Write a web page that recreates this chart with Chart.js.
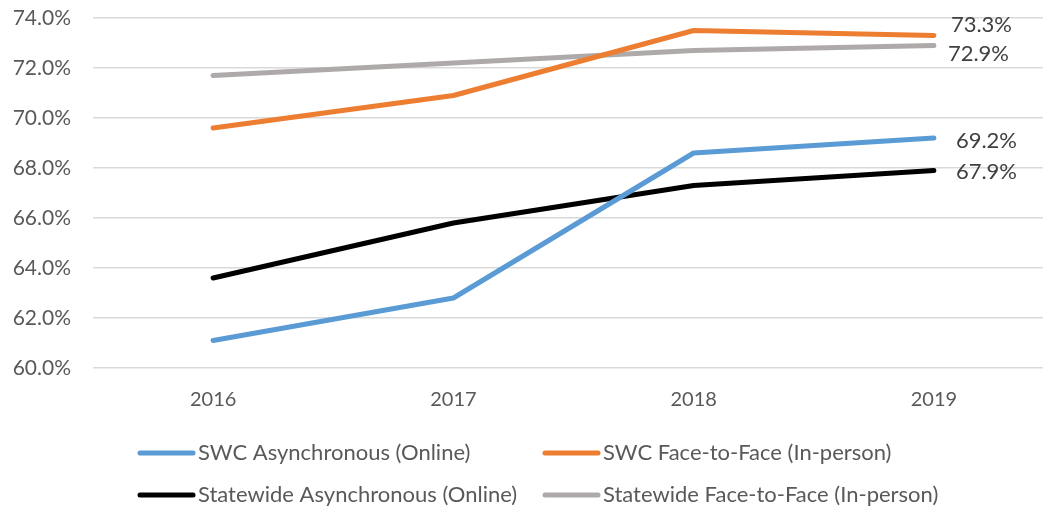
<!DOCTYPE html>
<html>
<head>
<meta charset="utf-8">
<script src="https://cdn.jsdelivr.net/npm/chart.js@4"></script>
<style>
  html, body { margin: 0; padding: 0; background: #fff; overflow: hidden; }
  #wrap { width: 1062px; height: 512px; position: relative; }
</style>
</head>
<body>
<div id="wrap"><canvas id="chart"></canvas></div>
<script>
// ============================
// Données
// ============================

const years = ["2016", "2017", "2018", "2019"];

const swcOnline      = [61.1, 62.8, 68.6, 69.2];
const swcInPerson    = [69.6, 70.9, 73.5, 73.3];
const stateOnline    = [63.6, 65.8, 67.3, 67.9];
const stateInPerson  = [71.7, 72.2, 72.7, 72.9];

const seriesNames = [
  "SWC Asynchronous (Online)",
  "SWC Face-to-Face (In-person)",
  "Statewide Asynchronous (Online)",
  "Statewide Face-to-Face (In-person)"
];

const FONT = "Lato, 'Open Sans', sans-serif";

// ============================
// Étiquette de la dernière valeur
// ============================

const lastLabels = {
  id: 'lastLabels',
  afterDatasetsDraw(chart, args, opts) {
    const ctx = chart.ctx;
    ctx.save();
    ctx.font = `22px ${FONT}`;
    ctx.fillStyle = '#404040';
    ctx.textBaseline = 'middle';
    ctx.textAlign = 'left';
    chart.data.datasets.forEach((ds, i) => {
      const meta = chart.getDatasetMeta(i);
      const pt = meta.data[meta.data.length - 1];
      const v = ds.data[ds.data.length - 1];
      const off = opts.offsets[i];
      ctx.fillText(v.toFixed(1) + '%', pt.x + off[0], pt.y + off[1]);
    });
    ctx.restore();
  }
};

// ============================
// Légende en grille 2 x 2
// ============================

const gridLegend = {
  id: 'gridLegend',
  afterDraw(chart, args, opts) {
    const ctx = chart.ctx;
    ctx.save();
    ctx.font = `22px ${FONT}`;
    ctx.fillStyle = '#595959';
    ctx.textBaseline = 'middle';
    chart.data.datasets.forEach((ds, i) => {
      const x = opts.cols[i % 2];
      const y = opts.rows[Math.floor(i / 2)];
      ctx.strokeStyle = ds.borderColor;
      ctx.lineWidth = 5;
      ctx.lineCap = 'round';
      ctx.beginPath();
      ctx.moveTo(x, y);
      ctx.lineTo(x + 53, y);
      ctx.stroke();
      ctx.fillText(ds.label, x + 58, y);
    });
    ctx.restore();
  }
};

function serie(label, data, color) {
  return {
    label: label,
    data: data,
    borderColor: color,
    backgroundColor: color,
    borderWidth: 5,
    borderCapStyle: 'round',
    borderJoinStyle: 'round',
    pointRadius: 0,
    pointHoverRadius: 0,
    tension: 0,
    fill: false
  };
}

new Chart(document.getElementById('chart'), {
  type: 'line',
  data: {
    labels: years,
    datasets: [
      serie(seriesNames[0], swcOnline, '#5B9BD5'),
      serie(seriesNames[1], swcInPerson, '#ED7D31'),
      serie(seriesNames[2], stateOnline, '#000000'),
      serie(seriesNames[3], stateInPerson, '#AEAAAA')
    ]
  },
  plugins: [lastLabels, gridLegend],
  options: {
    responsive: true,
    maintainAspectRatio: false,
    animation: false,
    layout: { padding: { top: 18, right: 8, bottom: 80, left: 0 } },
    plugins: {
      legend: { display: false },
      tooltip: { enabled: false },
      lastLabels: { offsets: [[22, 3], [17, -11], [22, 1], [14, 8]] },
      gridLegend: { cols: [140, 545], rows: [453, 495] }
    },
    scales: {
      x: {
        offset: true,
        grid: { display: false, drawTicks: false },
        border: { display: false },
        ticks: { color: '#595959', font: { family: FONT, size: 20 }, padding: 20 }
      },
      y: {
        min: 60,
        max: 74,
        afterFit(scale) {
          scale.width = 93;
          scale.paddingTop = 12;
          scale.paddingBottom = 12;
        },
        grid: { color: '#d9d9d9', lineWidth: 1.5, drawTicks: false },
        border: { display: false },
        ticks: {
          stepSize: 2,
          padding: 22,
          color: '#595959',
          font: { family: FONT, size: 21 },
          callback: v => v.toFixed(1) + '%'
        }
      }
    }
  }
});
</script>
</body>
</html>
